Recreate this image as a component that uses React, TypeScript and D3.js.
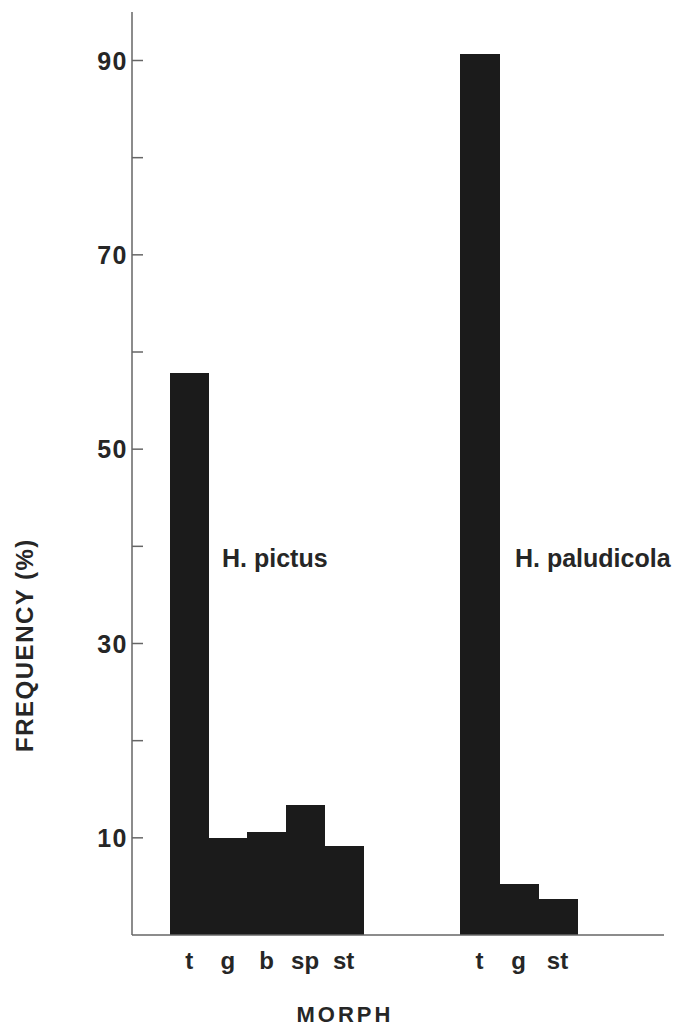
import React from "react";
import * as d3 from "d3";

const pictusMorphs = ["t", "g", "b", "sp", "st"];
const pictusValues = [57.8, 10.0, 10.6, 13.4, 9.2];
const paludMorphs = ["t", "g", "st"];
const paludValues = [90.7, 5.3, 3.7];
const yTicks = [10, 20, 30, 40, 50, 60, 70, 80, 90];
const yTickLabels = [10, 30, 50, 70, 90];

const W = 680;
const H = 1028;
const FONT = "'Liberation Sans', Arial, Helvetica, sans-serif";

export default function App() {
  const axisX = 132;
  const y = d3.scaleLinear().domain([0, 90]).range([935, 60.5]);
  const xP = d3.scaleBand<string>().domain(pictusMorphs).range([170, 363]).padding(0);
  const xQ = d3.scaleBand<string>().domain(paludMorphs).range([460, 577]).padding(0);
  const fill = "#1b1b1b";
  const ink = "#262626";

  return (
    <svg width={W} height={H} style={{ position: "absolute", left: 0, top: 0, background: "#fff" }}>
      {/* bars */}
      <g shapeRendering="crispEdges">
        {pictusMorphs.map((m, i) => (
          <rect key={"p" + m} x={xP(m)} y={y(pictusValues[i])} width={xP.bandwidth() + 0.6} height={y(0) - y(pictusValues[i])} fill={fill} />
        ))}
        {paludMorphs.map((m, i) => (
          <rect key={"q" + m} x={xQ(m)} y={y(paludValues[i])} width={xQ.bandwidth() + 0.6} height={y(0) - y(paludValues[i])} fill={fill} />
        ))}
      </g>
      {/* axes */}
      <line x1={axisX} x2={axisX} y1={12} y2={y(0)} stroke="#666" strokeWidth={1.5} />
      <line x1={axisX} x2={664} y1={y(0)} y2={y(0)} stroke="#666" strokeWidth={1.5} />
      {yTicks.map((t) => (
        <line key={t} x1={axisX} x2={axisX + 11} y1={y(t)} y2={y(t)} stroke="#666" strokeWidth={1.5} />
      ))}
      {yTickLabels.map((t) => (
        <text key={"l" + t} x={128} y={y(t)} dy="0.36em" textAnchor="end" fontFamily={FONT} fontWeight="bold" fontSize={25} letterSpacing={1.5} fill={ink}>
          {t}
        </text>
      ))}
      {/* category labels */}
      {pictusMorphs.map((m) => (
        <text key={"cp" + m} x={(xP(m) as number) + xP.bandwidth() / 2} y={969} textAnchor="middle" fontFamily={FONT} fontWeight="bold" fontSize={24} fill={ink}>
          {m}
        </text>
      ))}
      {paludMorphs.map((m) => (
        <text key={"cq" + m} x={(xQ(m) as number) + xQ.bandwidth() / 2} y={969} textAnchor="middle" fontFamily={FONT} fontWeight="bold" fontSize={24} fill={ink}>
          {m}
        </text>
      ))}
      {/* species labels */}
      <text x={222} y={567} fontFamily={FONT} fontWeight="bold" fontSize={25} fill={ink}>H. pictus</text>
      <text x={515} y={567} fontFamily={FONT} fontWeight="bold" fontSize={25} fill={ink}>H. paludicola</text>
      {/* axis titles */}
      <text x={345} y={1022} textAnchor="middle" fontFamily={FONT} fontWeight="bold" fontSize={22} letterSpacing={3} fill={ink}>MORPH</text>
      <text transform="translate(33,645) rotate(-90)" textAnchor="middle" fontFamily={FONT} fontWeight="bold" fontSize={24} letterSpacing={1.5} fill={ink}>FREQUENCY (%)</text>
    </svg>
  );
}
